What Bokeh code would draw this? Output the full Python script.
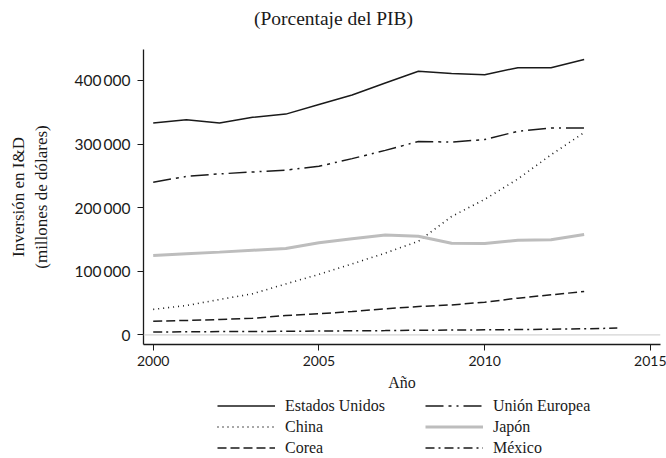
from bokeh.plotting import figure
from bokeh.layouts import column
from bokeh.models import FixedTicker, Span, Legend, LegendItem, Range1d, Label
from bokeh.embed import file_html
from bokeh.resources import INLINE

# ---- data ----
years = list(range(2000, 2014))
years_mx = list(range(2000, 2015))
estados_unidos = [333000, 338000, 333000, 342000, 347000, 362000, 377000,
                  396000, 414500, 411000, 409000, 420000, 420000, 433000]
union_europea = [240000, 249000, 253000, 256000, 259000, 265000, 277000,
                 290000, 304000, 303000, 307000, 320000, 325000, 325000]
china = [40000, 46000, 55500, 64500, 80000, 95000, 111500,
         128500, 147000, 186000, 213000, 245000, 283000, 318000]
japon = [124700, 127500, 130000, 133000, 135700, 144600, 151000,
         157000, 155000, 144000, 143500, 148700, 149500, 157700]
corea = [21400, 22600, 24000, 26000, 30300, 33000, 36600,
         40800, 44500, 47000, 51300, 57600, 62900, 68000]
mexico = [4300, 4700, 5000, 5200, 5600, 5900, 6300, 6600,
          7200, 7400, 7800, 8200, 8700, 9500, 10500]

series_names = ["Estados Unidos", "Unión Europea", "China", "Japón", "Corea", "México"]
y_ticks = [0, 100000, 200000, 300000, 400000]
y_tick_labels = ["0", "100\u2009000", "200\u2009000", "300\u2009000", "400\u2009000"]
x_ticks = [2000, 2005, 2010, 2015]
zero_line = 0
title_text = "(Porcentaje del PIB)"

SERIF = "Liberation Serif"
SANS = "Lato"
INK = "#1a1a1a"
W = 666
LEFT = 143
RIGHT = 6

styles = [
    dict(line_color=INK, line_width=1.5),
    dict(line_color=INK, line_width=1.5, line_dash="18 5 3 5 2 5"),
    dict(line_color=INK, line_width=1.6, line_dash="1 4"),
    dict(line_color="#bdbdbd", line_width=3),
    dict(line_color=INK, line_width=1.5, line_dash="9 4"),
    dict(line_color=INK, line_width=1.5, line_dash="9 4 2 4"),
]
xs = [years, years, years, years, years, years_mx]
ys = [estados_unidos, union_europea, china, japon, corea, mexico]


def bare(fig):
    fig.outline_line_color = None
    fig.xgrid.visible = False
    fig.ygrid.visible = False
    fig.background_fill_color = "white"
    fig.border_fill_color = "white"


# ---- title strip ----
hd = figure(width=W, height=41, output_backend="svg", toolbar_location=None,
            x_axis_type=None, y_axis_type=None,
            min_border_left=LEFT, min_border_right=RIGHT, min_border_top=0, min_border_bottom=0,
            x_range=Range1d(0, 1), y_range=Range1d(0, 1))
bare(hd)
hd.add_layout(Label(x=190, y=23, x_units="screen", y_units="screen", text=title_text,
                    text_font=SERIF, text_font_size="19.5px", text_color=INK,
                    text_align="center", text_baseline="middle"))

# ---- main chart ----
p = figure(width=W, height=355, output_backend="svg", toolbar_location=None,
           x_range=Range1d(1999.707, 2015.303), y_range=Range1d(-15250, 448600),
           min_border_left=LEFT, min_border_right=RIGHT, min_border_top=8,
           min_border_bottom=52)
bare(p)

p.add_layout(Span(location=zero_line, dimension="width", line_color="#d4d4d4", line_width=1.2))

for x, y, st in zip(xs, ys, styles):
    p.line(x, y, **st)

for ax in (p.xaxis[0], p.yaxis[0]):
    ax.axis_line_color = INK
    ax.axis_line_width = 1.3
    ax.major_tick_line_color = INK
    ax.major_tick_line_width = 1
    ax.major_tick_in = 0
    ax.major_tick_out = 6
    ax.minor_tick_line_color = None
    ax.major_label_text_font = SANS
    ax.major_label_text_color = INK
    ax.axis_label_text_font = SERIF
    ax.axis_label_text_font_style = "normal"
    ax.axis_label_text_color = INK

p.yaxis.ticker = FixedTicker(ticks=y_ticks)
p.yaxis.major_label_overrides = dict(zip(y_ticks, y_tick_labels))
p.yaxis.major_label_text_font_size = "15.5px"
p.yaxis.major_label_standoff = 7
p.yaxis.axis_label = "Inversión en I&D\n(millones de dólares)"
p.yaxis.axis_label_text_font_size = "17px"
p.yaxis.axis_label_standoff = 21

p.xaxis.ticker = FixedTicker(ticks=x_ticks)
p.xaxis.major_label_text_font_size = "14px"
p.xaxis.major_label_standoff = 5
p.xaxis.axis_label = "Año"
p.xaxis.axis_label_text_font_size = "16px"
p.xaxis.axis_label_standoff = 5

# ---- legend strip ----
lg = figure(width=W, height=61, output_backend="svg", toolbar_location=None,
            x_axis_type=None, y_axis_type=None,
            min_border_left=LEFT, min_border_right=RIGHT, min_border_top=0, min_border_bottom=0,
            x_range=Range1d(1999.707, 2015.303), y_range=Range1d(600000, 700000))
bare(lg)
lg_renderers = [lg.line(x, y, **st) for x, y, st in zip(xs, ys, styles)]
legend = Legend(items=[LegendItem(label=n, renderers=[r]) for n, r in zip(series_names, lg_renderers)],
                ncols=2, orientation="horizontal", location=(74, 0),
                label_text_font=SERIF, label_text_font_size="16px", label_text_color=INK,
                glyph_width=58, glyph_height=19, label_height=19, label_width=138,
                label_standoff=10, spacing=2, padding=0, margin=0,
                border_line_color=None, background_fill_alpha=0)
lg.add_layout(legend)

open("out.html", "w").write(file_html(column(hd, p, lg, spacing=0), INLINE))
